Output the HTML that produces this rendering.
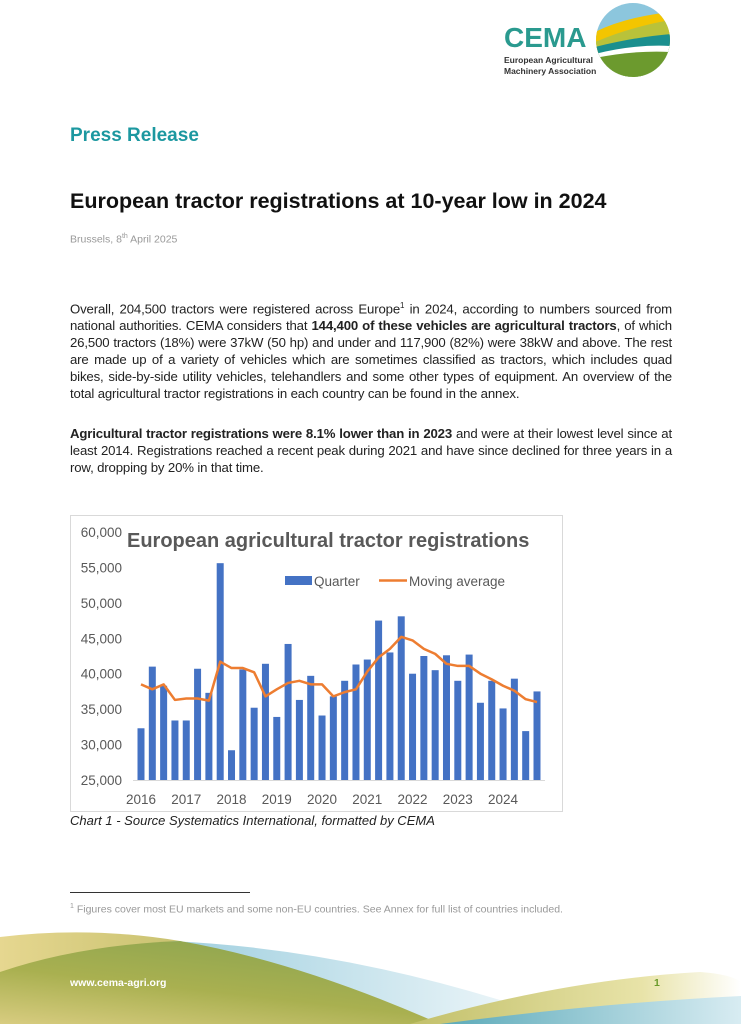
<!DOCTYPE html>
<html><head><meta charset="utf-8"><style>
body{margin:0;width:741px;height:1024px;position:relative;background:#fff;font-family:"Liberation Sans",sans-serif;overflow:hidden}
.abs{position:absolute}
p{margin:0}
.para{left:70px;width:602px;font-size:13.2px;line-height:17px;color:#222;text-align:justify;letter-spacing:-0.15px}
</style></head><body>
<svg class="abs" style="left:595px;top:2px" width="76" height="76">
<defs><clipPath id="c"><circle cx="38" cy="38" r="37"/></clipPath></defs>
<g clip-path="url(#c)"><rect width="76" height="76" fill="#8cc6dd"/>
<path d="M0 30 Q30 15 76 10 L76 76 L0 76Z" fill="#f3c500"/>
<path d="M0 40 Q35 25 76 18 L76 76 L0 76Z" fill="#b9c23a"/>
<path d="M0 45 Q40 35 76 32 L76 76 L0 76Z" fill="#1a8f8e"/>
<path d="M0 52 Q40 42 76 44 L76 76 L0 76Z" fill="#fff"/>
<path d="M0 56 Q40 48 76 50 L76 76 L0 76Z" fill="#6c9a2e"/></g></svg>
<div class="abs" style="left:504px;top:22px;font-size:28px;font-weight:bold;color:#2a9a8f">CEMA</div>
<div class="abs" style="left:504px;top:55px;font-size:8.5px;font-weight:bold;color:#333;line-height:11px">European Agricultural<br>Machinery Association</div>
<div class="abs" style="left:70px;top:125px;font-size:19px;font-weight:bold;color:#1c98a0">Press Release</div>
<div class="abs" style="left:70px;top:189px;font-size:21.5px;font-weight:bold;color:#111">European tractor registrations at 10-year low in 2024</div>
<div class="abs" style="left:70px;top:233px;font-size:10.5px;color:#999">Brussels, 8<sup style="font-size:7px">th</sup> April 2025</div>
<p class="abs para" style="top:297px">Overall, 204,500 tractors were registered across Europe<sup style="font-size:8px">1</sup> in 2024, according to numbers sourced from national authorities. CEMA considers that <b>144,400 of these vehicles are agricultural tractors</b>, of which 26,500 tractors (18%) were 37kW (50 hp) and under and 117,900 (82%) were 38kW and above. The rest are made up of a variety of vehicles which are sometimes classified as tractors, which includes quad bikes, side-by-side utility vehicles, telehandlers and some other types of equipment. An overview of the total agricultural tractor registrations in each country can be found in the annex.</p>
<p class="abs para" style="top:425px"><b>Agricultural tractor registrations were 8.1% lower than in 2023</b> and were at their lowest level since at least 2014. Registrations reached a recent peak during 2021 and have since declined for three years in a row, dropping by 20% in that time.</p>
<svg class="abs" id="chart" style="left:0;top:0" width="741" height="830"></svg>
<div class="abs" style="left:70px;top:813px;font-size:13px;font-style:italic;color:#222">Chart 1 - Source Systematics International, formatted by CEMA</div>
<div class="abs" style="left:70px;top:892px;width:180px;border-top:1px solid #333"></div>
<div class="abs" style="left:70px;top:903px;font-size:10.5px;color:#999"><sup style="font-size:7px">1</sup> Figures cover most EU markets and some non-EU countries. See Annex for full list of countries included.</div>
<svg class="abs" style="left:0;top:915px" width="741" height="109" viewBox="0 915 741 109">
<defs>
<linearGradient id="gb" x1="0" x2="1"><stop offset="0" stop-color="#e6d790"/><stop offset="1" stop-color="#c9c270"/></linearGradient>
<linearGradient id="gg" x1="0" y1="1" x2="0.6" y2="0"><stop offset="0" stop-color="#d8cc80"/><stop offset="0.5" stop-color="#a9b050"/><stop offset="1" stop-color="#8fa650"/></linearGradient>
<linearGradient id="gbl" x1="0" x2="1"><stop offset="0" stop-color="#9fcfdf"/><stop offset="1" stop-color="#ffffff"/></linearGradient>
<linearGradient id="gy" x1="0" x2="1"><stop offset="0" stop-color="#c2c06a"/><stop offset="0.7" stop-color="#e8e3a8"/><stop offset="1" stop-color="#ffffff"/></linearGradient>
<linearGradient id="gt" x1="0" x2="1"><stop offset="0" stop-color="#5aa9b8"/><stop offset="1" stop-color="#d8ecf2"/></linearGradient>
</defs>
<path d="M0 937 Q90 926 180 941 L180 1024 L0 1024Z" fill="url(#gb)"/>
<path d="M170 941 Q330 948 500 1000 L600 1024 L430 1024 Q300 965 180 941Z" fill="url(#gbl)"/>
<path d="M0 972 Q80 945 180 941 Q300 962 440 1024 L0 1024Z" fill="url(#gg)"/>
<path d="M410 1024 Q560 980 700 972 Q730 974 741 982 L741 998 Q600 1004 470 1024Z" fill="url(#gy)"/>
<path d="M440 1024 Q600 1003 741 996 L741 1024Z" fill="url(#gt)"/>
</svg>
<div class="abs" style="left:70px;top:977px;font-size:10.5px;font-weight:bold;color:#fff">www.cema-agri.org</div>
<div class="abs" style="left:654px;top:977px;font-size:10.5px;font-weight:bold;color:#6a9a2a">1</div>
<script>
const years=["2016","2017","2018","2019","2020","2021","2022","2023","2024"];
const yTicks=[25000,30000,35000,40000,45000,50000,55000,60000];
const quarterValues=[32300,41000,38300,33400,33400,40700,37300,55600,29200,40600,35200,41400,33900,44200,36300,39700,34100,36800,39000,41300,42000,47500,43000,48100,40000,42500,40500,42600,39000,42700,35900,39000,35100,39300,31900,37500];
const movingAverage=[38500,37800,38500,36300,36500,36500,36200,41700,40800,40800,40200,36800,37800,38700,39000,38500,38500,36800,37400,37800,40300,42300,43500,45200,44700,43500,42800,41400,41100,41100,40000,39200,38300,37600,36400,36000];
const s=document.getElementById('chart'),NS='http://www.w3.org/2000/svg';
function el(t,a,txt){const e=document.createElementNS(NS,t);for(const k in a)e.setAttribute(k,a[k]);if(txt!==undefined)e.textContent=txt;s.appendChild(e);return e;}
const y=v=>780-(v-25000)/35000*248;
const x=i=>141+i*(396/(quarterValues.length-1));
const frame=el('rect',{x:70.5,y:515.5,width:492,height:296,fill:'#fff',stroke:'#d9d9d9'});


yTicks.forEach(v=>{const t=el('text',{x:122,y:y(v)+5,'text-anchor':'end','font-size':'13.5',fill:'#595959'},v.toLocaleString('en-US'));

});
const ax=el('line',{x1:133,x2:545,y1:780.5,y2:780.5,stroke:'#d9d9d9'});


years.forEach((yr,i)=>{const t=el('text',{x:x(i*4),y:804,'text-anchor':'middle','font-size':'13.5',fill:'#595959'},yr);

});
quarterValues.forEach((v,i)=>{const b=el('rect',{x:x(i)-3.5,y:y(v),width:7,height:780-y(v),fill:'#4472c4'});

});
const ln=el('polyline',{points:movingAverage.map((v,i)=>x(i)+','+y(v)).join(' '),fill:'none',stroke:'#ed7d31','stroke-width':2.5,'stroke-linejoin':'round'});


const ti=el('text',{x:127,y:547,'font-size':'20','font-weight':'bold',fill:'#595959'},'European agricultural tractor registrations');


const l1=el('rect',{x:285,y:576,width:27,height:9,fill:'#4472c4'});


const l1t=el('text',{x:314,y:586,'font-size':'13.5',fill:'#595959'},'Quarter');


const l2=el('line',{x1:379,x2:407,y1:580.5,y2:580.5,stroke:'#ed7d31','stroke-width':2.5});


const l2t=el('text',{x:409,y:586,'font-size':'13.5',fill:'#595959'},'Moving average');


</script>
</body></html>
